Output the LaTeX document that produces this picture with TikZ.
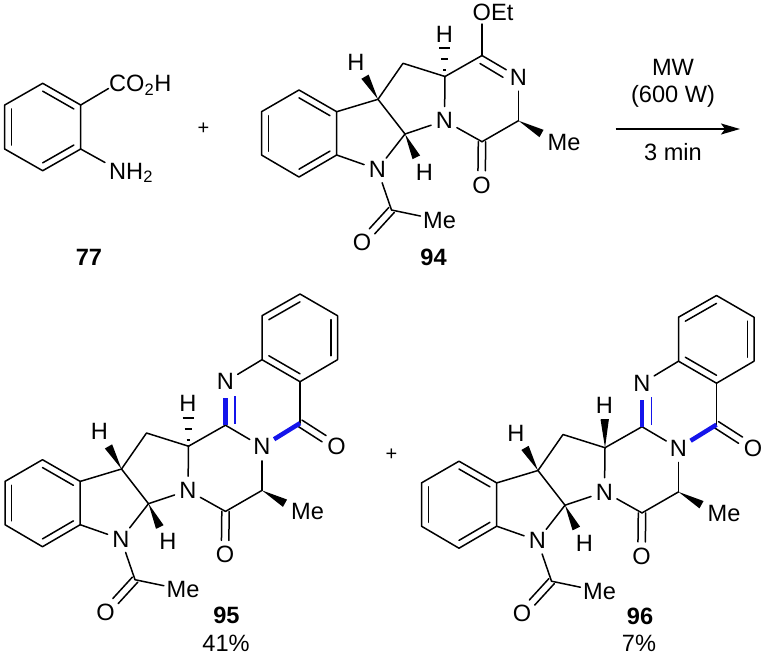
\documentclass[tikz,border=0pt]{standalone}
\usepackage{fontspec}
\setmainfont{Liberation Sans}
\usetikzlibrary{calc,arrows.meta}
\definecolor{bondblue}{RGB}{20,20,235}
\tikzset{
  x=1pt,y=-1pt,
  bond/.style={line width=1.5pt,black,line cap=round,line join=round},
  atom/.style={circle,inner sep=0pt,minimum size=28pt,font=\fontsize{23.6}{24}\selectfont},
  txt/.style={inner sep=0pt,font=\fontsize{23.6}{24}\selectfont},
  grp/.style={inner sep=2.5pt,font=\fontsize{23.6}{24}\selectfont},
  lab/.style={inner sep=0pt,font=\fontsize{23.6}{24}\selectfont\bfseries},
  plus/.style={inner sep=0pt,font=\fontsize{20}{20}\selectfont},
  blueheavy/.style={line width=4.5pt,bondblue},
  bluethin/.style={line width=1.3pt,bondblue},
  rxnarrow/.style={line width=1.6pt,-{Stealth[length=19pt,width=11pt,inset=4pt]}}
}
% inner line of an aromatic double bond
\newcommand{\innerbond}[3]{\draw[bond] ($(#1)!.18!(#3)$) -- ($(#2)!.18!(#3)$);}
% C=O double bond: two parallel lines
\newcommand{\dblbond}[3]{%
  \draw[bond] ($(#1)!3.7pt!90:(#2)$) -- ($(#1)!#3!(#2)!3.7pt!90:(#2)$);
  \draw[bond] ($(#1)!3.7pt!-90:(#2)$) -- ($(#1)!#3!(#2)!3.7pt!-90:(#2)$);}
% solid wedge, tip at #1, broad end at #2
\newcommand{\solidwedge}[2]{\fill[black] (#1) -- ($(#2)!4.2pt!90:(#1)$) -- ($(#2)!4.2pt!-90:(#1)$) -- cycle;}
% the part shared by 94, 95 and 96 (coordinates as in 94)
\newcommand{\corepart}[1]{%
  \coordinate (#1a1) at (299,90);
  \coordinate (#1a2) at (336.7,111.7);
  \coordinate (#1a3) at (336.7,155);
  \coordinate (#1a4) at (299,177);
  \coordinate (#1a5) at (261.5,155);
  \coordinate (#1a6) at (261.5,111.7);
  \coordinate (#1ac) at (299,133.5);
  \coordinate (#1c1) at (378,99.3);
  \coordinate (#1h1e) at (365,76.7);
  \node[txt] (#1h1) at (356,62) {H};
  \coordinate (#1ch2) at (403,63.3);
  \coordinate (#1ch) at (445,76.5);
  \coordinate (#1ct) at (482,55.5);
  \node[atom] (#1nr) at (518.5,77) {N};
  \coordinate (#1cm) at (518.5,120.7);
  \coordinate (#1cme) at (541.5,133.5);
  \node[grp] (#1me) at (564,142) {Me};
  \coordinate (#1co) at (482,141.7);
  \node[atom] (#1ob) at (481.5,185) {O};
  \node[atom] (#1n1) at (444.5,120.7) {N};
  \coordinate (#1c2) at (405,134);
  \node[txt] (#1h2) at (424.5,172) {H};
  \coordinate (#1h2e) at (416.3,157.3);
  \node[atom] (#1n2) at (377.5,169.3) {N};
  \coordinate (#1ac1) at (391.5,210);
  \node[grp] (#1am) at (439.5,220) {Me};
  \node[atom] (#1ao) at (362,242.3) {O};
  \draw[bond] (#1a1) -- (#1a2) -- (#1a3) -- (#1a4) -- (#1a5) -- (#1a6) -- cycle;
  \innerbond{#1a1}{#1a2}{#1ac}
  \innerbond{#1a3}{#1a4}{#1ac}
  \innerbond{#1a5}{#1a6}{#1ac}
  \draw[bond] (#1a2) -- (#1c1) -- (#1ch2) -- (#1ch);
  \draw[bond] (#1c1) -- (#1c2);
  \draw[bond] (#1a3) -- (#1n2);
  \draw[bond] (#1c2) -- (#1n2);
  \draw[bond] (#1c2) -- (#1n1);
  \draw[bond] (#1ch) -- (#1n1);
  \draw[bond] (#1ch) -- (#1ct);
  \draw[bond] (#1ct) -- (#1nr);
  \draw[bond] (#1nr) -- (#1cm);
  \draw[bond] (#1cm) -- (#1co);
  \draw[bond] (#1co) -- (#1n1);
  \dblbond{#1co}{#1ob}{.67}
  \draw[bond] (#1n2) -- (#1ac1);
  \draw[bond] (#1ac1) -- (#1am);
  \dblbond{#1ac1}{#1ao}{.66}
  \solidwedge{#1c1}{#1h1e}
  \solidwedge{#1c2}{#1h2e}
  \solidwedge{#1cm}{#1cme}
}
% the quinazolinone part of 95 and 96 (coordinates as in 94)
\newcommand{\quinpart}[1]{%
  \node[atom] (#1nt) at (482,12) {N};
  \coordinate (#1b1) at (518.5,-10);
  \coordinate (#1b2) at (556.5,12);
  \coordinate (#1b3) at (594,-10);
  \coordinate (#1b4) at (594,-54);
  \coordinate (#1b5) at (556.5,-75.7);
  \coordinate (#1b6) at (518.5,-54);
  \coordinate (#1bc) at (556.5,-32);
  \coordinate (#1cc) at (556.5,53.5);
  \node[atom] (#1or) at (593,77) {O};
  \coordinate (#1tk) at (482,28.5);
  \coordinate (#1ta) at (491.5,54);
  \coordinate (#1tb) at (491.5,26);
  \draw[bond] (#1b1) -- (#1b2) -- (#1b3) -- (#1b4) -- (#1b5) -- (#1b6) -- cycle;
  \innerbond{#1b1}{#1b2}{#1bc}
  \innerbond{#1b3}{#1b4}{#1bc}
  \innerbond{#1b5}{#1b6}{#1bc}
  \draw[bond] (#1nt) -- (#1b1);
  \draw[bond] (#1b2) -- (#1cc);
  \dblbond{#1cc}{#1or}{.66}
  \draw[blueheavy] (#1ct) -- (#1tk);
  \draw[bluethin] (#1ta) -- (#1tb);
  \draw[blueheavy] (#1nr) -- (#1cc);
}
\begin{document}
\begin{tikzpicture}
\useasboundingbox (0,0) rectangle (765,657);
% ---- 77
\coordinate (p1) at (42.7,83.3);
\coordinate (p2) at (80.7,105);
\coordinate (p3) at (80.7,149);
\coordinate (p4) at (42.7,170.7);
\coordinate (p5) at (4.7,149);
\coordinate (p6) at (4.7,105);
\coordinate (pc) at (42.7,127);
\node[grp,anchor=west,inner sep=0pt] (co2h) at (109,85) {CO\textsubscript{2}H};
\node[grp,anchor=west,inner sep=0pt] (nh2) at (109,173) {NH\textsubscript{2}};
\coordinate (co2hb) at (108.5,88.5);
\coordinate (nh2b) at (105,162.5);
\draw[bond] (p1) -- (p2) -- (p3) -- (p4) -- (p5) -- (p6) -- cycle;
\innerbond{p1}{p2}{pc}
\innerbond{p3}{p4}{pc}
\innerbond{p5}{p6}{pc}
\draw[bond] (p2) -- (co2hb);
\draw[bond] (p3) -- (nh2b);
\node[lab] (l77) at (89,257) {77};
\node[plus] (plus1) at (203.5,129) {+};
% ---- 94
\corepart{r}
\node[txt,anchor=west] (oet) at (472.5,12) {OEt};
\coordinate (oetb) at (482,24);
\draw[bond] (rct) -- (oetb);
\coordinate (ra) at (480,63.5);
\coordinate (rb) at (503,77.3);
\draw[bond] (ra) -- (rb);
\node[txt] (rh3) at (444.5,34) {H};
\coordinate (d1) at (444.7,70);
\coordinate (d2) at (444.7,59);
\coordinate (d3) at (444.7,48);
\draw[line width=1.6pt] ($(d1)+(-1.5,0)$) -- ($(d1)+(1.5,0)$);
\draw[line width=1.6pt] ($(d2)+(-3.5,0)$) -- ($(d2)+(3.5,0)$);
\draw[line width=1.6pt] ($(d3)+(-5.5,0)$) -- ($(d3)+(5.5,0)$);
\node[lab] (l94) at (433.5,257) {94};
% ---- reaction arrow
\coordinate (arrs) at (615.5,129);
\coordinate (arre) at (740,129);
\draw[rxnarrow] (arrs) -- (arre);
\node[txt] (mw) at (673,67.5) {MW};
\node[txt] (w600) at (673,96.5) {(600 W)};
\node[txt] (tm) at (673,152) {3 min};
% ---- 95
\begin{scope}[shift={(-256.5,369.7)}]
\corepart{s}
\quinpart{s}
\node[txt] (sh3) at (444.5,34) {H};
\coordinate (e1) at (444.7,70);
\coordinate (e2) at (444.7,59);
\coordinate (e3) at (444.7,48);
\end{scope}
\draw[line width=1.6pt] ($(e1)+(-1.5,0)$) -- ($(e1)+(1.5,0)$);
\draw[line width=1.6pt] ($(e2)+(-3.5,0)$) -- ($(e2)+(3.5,0)$);
\draw[line width=1.6pt] ($(e3)+(-5.5,0)$) -- ($(e3)+(5.5,0)$);
\node[lab] (l95) at (226.5,615) {95};
\node[txt] (y95) at (226,643.5) {41\%};
\node[plus] (plus2) at (391.5,455) {+};
% ---- 96
\begin{scope}[shift={(160,371.2)}]
\corepart{t}
\quinpart{t}
\node[txt] (th3) at (444.5,34) {H};
\coordinate (the) at (444.7,48);
\end{scope}
\solidwedge{tch}{the}
\node[lab] (l96) at (640,616) {96};
\node[txt] (y96) at (639,643.5) {7\%};
\end{tikzpicture}
\end{document}
